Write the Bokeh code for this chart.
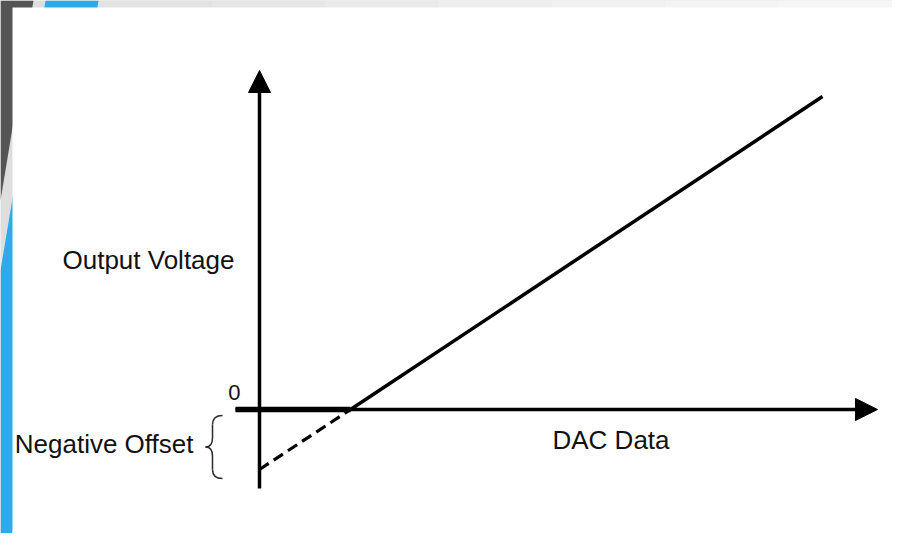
from bokeh.plotting import figure
from bokeh.models import Range1d, Arrow, NormalHead, PolyAnnotation, ColumnDataSource
from bokeh.core.properties import value
from bokeh.embed import file_html
from bokeh.resources import INLINE

# ---- data (units: DAC code / volts, arbitrary scale) ----
dac_axis_end = 61.8          # arrow tip of DAC axis
volt_axis_end = 33.9         # arrow tip of voltage axis
volt_axis_start = -7.9
dac_axis_start = -2.4

# transfer function points
dac_dashed = [0.0, 9.1]
volt_dashed = [-6.0, 0.0]
dac_solid = [9.1, 56.3]
volt_solid = [0.0, 31.3]

# label texts
label_text = ["Output Voltage", "Negative Offset", "DAC Data", "0"]
label_x = [-2.5, -6.6, 29.3, -1.9]
label_y = [15.0, -3.4, -3.0, 1.7]
label_align = ["right", "right", "left", "right"]
label_size = ["26px", "26px", "26px", "22px"]

W, H = 892, 533
p = figure(width=W, height=H, output_backend="svg", toolbar_location=None,
           x_range=Range1d(-25.9, 63.3), y_range=Range1d(-12.4, 40.9),
           x_axis_type=None, y_axis_type=None, min_border=0,
           outline_line_color=None, background_fill_color="#dedede",
           border_fill_color="white")
p.grid.visible = False


def deco(xs, ys, color):
    # slide decoration, given in screen pixels measured from the top-left corner
    p.add_layout(PolyAnnotation(xs=xs, ys=[H - y for y in ys],
                                xs_units="screen", ys_units="screen",
                                fill_color=color, fill_alpha=1, line_alpha=0,
                                level="underlay"))


# top band light gradient
band_colors = ["#e2e2e2", "#e6e6e6", "#eaeaea", "#eeeeee", "#f1f1f1", "#f4f4f4", "#f6f6f6"]
step = (W - 98) / len(band_colors)
for i, c in enumerate(band_colors):
    x0 = 98 + i * step
    deco([x0, x0 + step + 1, x0 + step + 1, x0], [0, 0, 8, 8], c)
# dark gray and blue stripes
deco([0, 33, 0], [0, 0, 200], "#555555")
deco([45, 98, 98 - 0.162 * H, 0, 0], [0, 0, H, H, 270], "#2eaae8")
# white content panel
deco([12, W, W, 12], [7, 7, H, H], "white")

# ---- axes with arrows ----
p.add_layout(Arrow(end=NormalHead(size=22, fill_color="black", line_color="black", line_width=1),
                   x_start=0, y_start=volt_axis_start, x_end=0, y_end=volt_axis_end,
                   line_width=3.5, line_color="black"))
p.add_layout(Arrow(end=NormalHead(size=22, fill_color="black", line_color="black", line_width=1),
                   x_start=dac_axis_start, y_start=0, x_end=dac_axis_end, y_end=0,
                   line_width=3.5, line_color="black"))
# thicker ideal zero segment
p.line([dac_axis_start, dac_solid[0]], [0, 0], line_width=5.5, line_color="black")

# ---- transfer function ----
p.line(dac_dashed, volt_dashed, line_width=3.2, line_color="black", line_dash="11 6")
p.line(dac_solid, volt_solid, line_width=3.5, line_color="black")

# ---- brace for negative offset ----
xr, xm, xl = -3.7, -4.7, -5.4
yt, yb = -0.6, -6.9
ymid = (yt + yb) / 2
hook = 0.9
p.quadratic(x0=[xr, xm, xr, xm], y0=[yt, ymid + hook, yb, ymid - hook],
            x1=[xm, xl, xm, xl], y1=[yt - hook, ymid, yb + hook, ymid],
            cx=[xm, xm, xm, xm], cy=[yt, ymid, yb, ymid],
            line_color="#2a2a2a", line_width=1.5)
p.segment(x0=[xm, xm], y0=[yt - hook, yb + hook], x1=[xm, xm], y1=[ymid + hook, ymid - hook],
          line_color="#2a2a2a", line_width=1.5)

# ---- labels ----
src = ColumnDataSource(dict(x=label_x, y=label_y, text=label_text,
                            align=label_align, size=label_size))
p.text(x="x", y="y", text="text", source=src, text_align="align",
       text_baseline="alphabetic", text_font_size="size",
       text_font=value("Liberation Sans"), text_color="#111111")

open("out.html", "w").write(file_html(p, INLINE))
